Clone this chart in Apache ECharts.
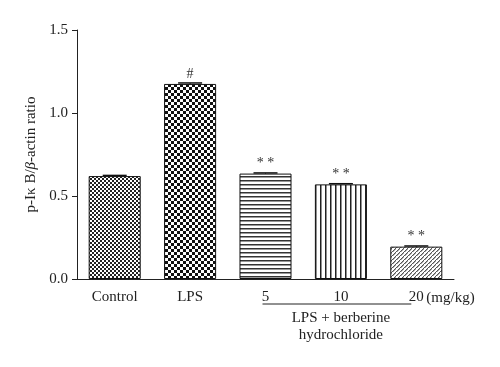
<!DOCTYPE html>
<html>
<head>
<meta charset="utf-8">
<script src="https://cdn.jsdelivr.net/npm/echarts@6/dist/echarts.min.js"></script>
<style>html,body{margin:0;padding:0;background:#fff}#c{width:500px;height:367px}</style>
</head>
<body>
<div id="c"></div>
<script>
var categories = ['Control', 'LPS', '5', '10', '20'];
var values = [0.62, 1.175, 0.635, 0.57, 0.195];
var errors = [0.004, 0.006, 0.004, 0.004, 0.004];
var marks = ['', '#', '* *', '* *', '* *'];
var yTicks = [0, 0.5, 1.0, 1.5];

function mk(w, h, draw) {
  var c = document.createElement('canvas');
  c.width = w; c.height = h;
  var g = c.getContext('2d');
  g.fillStyle = '#fff'; g.fillRect(0, 0, w, h);
  draw(g);
  return { image: c, repeat: 'repeat' };
}
function checker(s, dark) {
  return mk(s * 2, s * 2, function (g) {
    g.fillStyle = dark;
    g.fillRect(0, 0, s, s);
    g.fillRect(s, s, s, s);
  });
}
var patterns = [
  checker(2, '#222'),
  checker(3, '#111'),
  mk(4, 4, function (g) { g.fillStyle = '#333'; g.fillRect(0, 0, 4, 1.5); }),
  mk(5, 5, function (g) { g.fillStyle = '#222'; g.fillRect(0, 0, 1.5, 5); }),
  mk(4, 4, function (g) {
    g.fillStyle = '#555';
    for (var i = 0; i < 4; i++) { g.fillRect(i, 3 - i, 1.5, 1); }
  })
];

var font = '"Liberation Serif", "Times New Roman", serif';
var fs = 15;
var chart = echarts.init(document.getElementById('c'));
var option = {
  animation: false,
  backgroundColor: '#fff',
  grid: { left: 77, right: 46, top: 30, bottom: 88 },
  xAxis: {
    type: 'category',
    data: categories,
    axisLine: { lineStyle: { color: '#222', width: 1 } },
    axisTick: { alignWithLabel: true, length: 5, lineStyle: { color: '#222' } },
    axisLabel: { fontFamily: font, fontSize: fs, color: '#222', margin: 11 }
  },
  yAxis: {
    type: 'value',
    min: 0, max: 1.5, interval: 0.5,
    splitLine: { show: false },
    axisLine: { show: true, lineStyle: { color: '#222', width: 1 } },
    axisTick: { show: true, length: 5, lineStyle: { color: '#222' } },
    axisLabel: {
      fontFamily: font, fontSize: fs, color: '#222', margin: 9,
      formatter: function (v) { return v.toFixed(1); }
    },
    name: '{a|p-Iκ B/}{b|β}{a|-actin ratio}',
    nameLocation: 'middle',
    nameRotate: 90,
    nameGap: 38,
    nameTextStyle: {
      rich: {
        a: { fontFamily: font, fontSize: fs, color: '#222' },
        b: { fontFamily: font, fontSize: fs, color: '#222', fontStyle: 'italic' }
      }
    }
  },
  series: [
    {
      type: 'bar',
      barWidth: '69%',
      data: values.map(function (v, i) {
        return {
          value: v,
          itemStyle: { color: patterns[i], borderColor: '#111', borderWidth: 1 },
          label: {
            show: !!marks[i], formatter: marks[i], position: 'top', distance: 3,
            fontFamily: font, fontSize: 14, color: '#333'
          }
        };
      })
    },
    {
      type: 'custom',
      silent: true,
      z: 5,
      data: values.map(function (v, i) { return [i, v, errors[i]]; }),
      renderItem: function (params, api) {
        var x = api.value(0), v = api.value(1), e = api.value(2);
        var p0 = api.coord([x, v]);
        var p1 = api.coord([x, v + e]);
        var hw = 12;
        return {
          type: 'group',
          children: [
            { type: 'line', shape: { x1: p0[0], y1: p0[1], x2: p1[0], y2: p1[1] }, style: { stroke: '#111', lineWidth: 1 } },
            { type: 'line', shape: { x1: p1[0] - hw, y1: p1[1], x2: p1[0] + hw, y2: p1[1] }, style: { stroke: '#111', lineWidth: 1.5 } }
          ]
        };
      }
    }
  ]
};
chart.setOption(option);

var x5 = chart.convertToPixel({ xAxisIndex: 0 }, '5');
var x10 = chart.convertToPixel({ xAxisIndex: 0 }, '10');
var x20 = chart.convertToPixel({ xAxisIndex: 0 }, '20');
var y0 = chart.convertToPixel({ yAxisIndex: 0 }, 0);
chart.setOption({
  graphic: [
    { type: 'line', shape: { x1: x5 - 3, y1: y0 + 25, x2: x20 - 5, y2: y0 + 25 }, style: { stroke: '#222', lineWidth: 1 } },
    { type: 'text', x: x20 + 10, y: y0 + 19, style: { text: '(mg/kg)', font: fs + 'px ' + font, fill: '#222', textAlign: 'left', textVerticalAlign: 'middle' } },
    { type: 'text', x: x10, y: y0 + 39, style: { text: 'LPS + berberine', font: fs + 'px ' + font, fill: '#222', textAlign: 'center', textVerticalAlign: 'middle' } },
    { type: 'text', x: x10, y: y0 + 56, style: { text: 'hydrochloride', font: fs + 'px ' + font, fill: '#222', textAlign: 'center', textVerticalAlign: 'middle' } }
  ]
});
</script>
</body>
</html>
